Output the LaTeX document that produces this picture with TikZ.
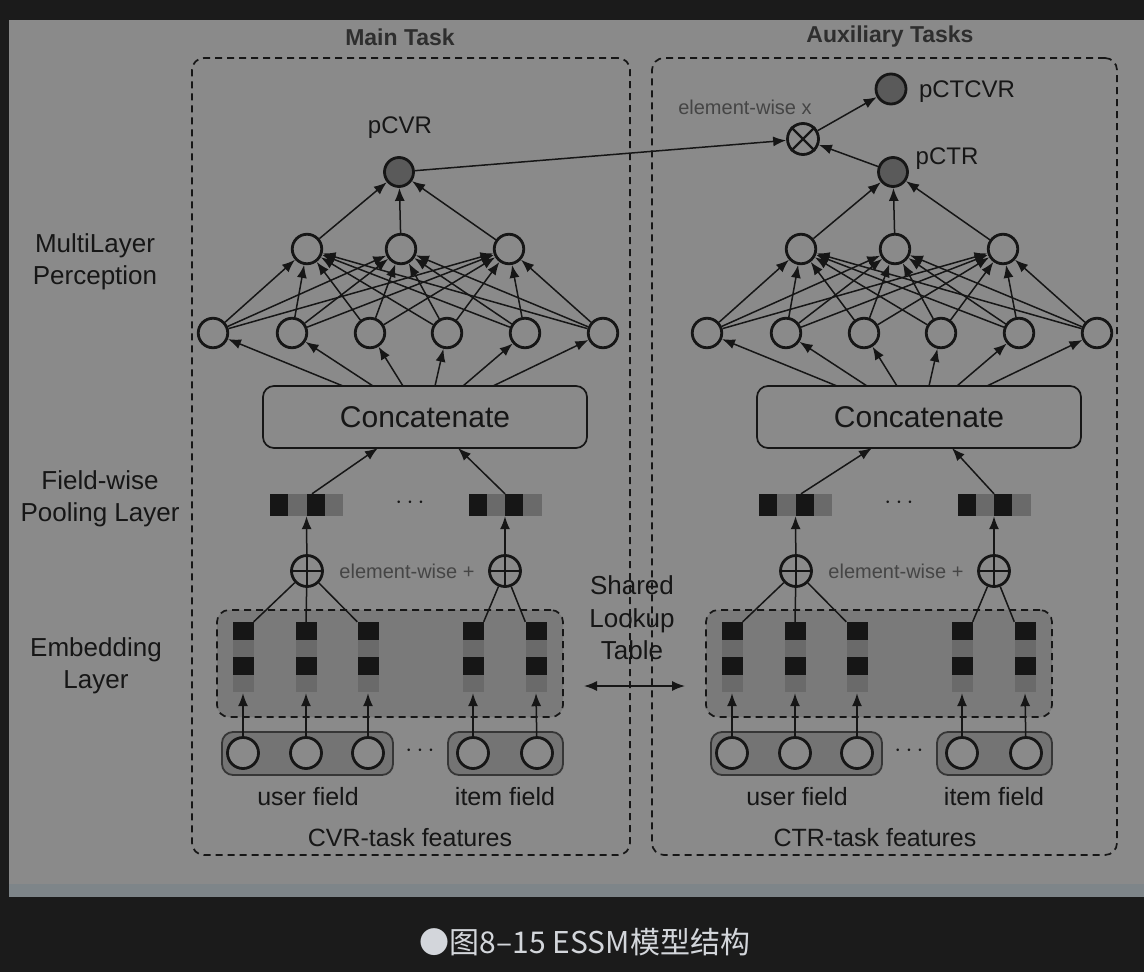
\documentclass[tikz,border=0pt]{standalone}
\usepackage{fontspec}
\setmainfont{Liberation Sans}
\newfontfamily\cjk{Noto Sans CJK SC}
\usetikzlibrary{arrows.meta,calc}

\definecolor{bgdark}{HTML}{1B1B1B}
\definecolor{panel}{HTML}{8A8A8A}
\definecolor{strip}{HTML}{7E8589}
\definecolor{ink}{HTML}{161616}
\definecolor{title}{HTML}{2E2E2E}
\definecolor{embfill}{HTML}{7A7A7A}
\definecolor{infill}{HTML}{747474}
\definecolor{inborder}{HTML}{363636}
\definecolor{cellgray}{HTML}{6A6A6A}
\definecolor{outfill}{HTML}{5A5A5A}
\definecolor{capcol}{HTML}{D3D6DB}
\definecolor{softink}{HTML}{454545}

\tikzset{
  neuron/.style={circle, draw=ink, line width=2.8pt, fill=panel, minimum size=29.5pt, inner sep=0pt},
  outn/.style={neuron, fill=outfill, minimum size=29pt},
  innode/.style={neuron, minimum size=31pt},
  opnode/.style={neuron, minimum size=31pt},
  arr/.style={draw=ink, line width=1.5pt, -{Latex[length=13pt,width=10pt]}},
  darr/.style={draw=ink, line width=1.5pt, {Latex[length=13pt,width=10pt]}-{Latex[length=13pt,width=10pt]}},
  ln/.style={draw=ink, line width=1.5pt},
  dbox/.style={draw=ink, dash pattern=on 7pt off 5pt, line width=1.7pt, rounded corners=12pt, inner sep=0pt},
  embbox/.style={dbox, fill=embfill},
  fieldbox/.style={draw=inborder, line width=1.8pt, fill=infill, rounded corners=11pt, inner sep=0pt},
  catbox/.style={draw=ink, line width=1.7pt, rounded corners=11pt, minimum width=324pt, minimum height=62pt, inner sep=0pt, font=\fontsize{30}{34}\selectfont, text=ink},
  blank/.style={draw=none, inner sep=0pt},
  lab/.style={font=\fontsize{26}{32.5}\selectfont, text=ink, align=center},
  small/.style={font=\fontsize{25}{30}\selectfont, text=ink},
  wise/.style={font=\fontsize{20}{24}\selectfont, text=softink},
  ttl/.style={font=\bfseries\fontsize{23}{28}\selectfont, text=title},
  plab/.style={font=\fontsize{24}{28}\selectfont, text=ink},
}

\newcommand\tower[3]{%
  % upper part
  \begin{scope}[xshift=#2]
    \node[outn] (#1out) at (399,172) {};
    \foreach \x [count=\k] in {307,401,509} \node[neuron] (#1h\k) at (\x,249) {};
    \foreach \x [count=\k] in {213,292,370,447,525,603} \node[neuron] (#1g\k) at (\x,333) {};
    \node[catbox] (#1cat) at (425,417) {Concatenate};
    \foreach \x [count=\k] in {343,373,403,435,463,493} {
      \coordinate (#1ct\k) at (\x,386);
      \draw[arr] (#1ct\k) -- (#1g\k);
    }
    \foreach \a in {1,...,6} \foreach \b in {1,2,3} \draw[arr] (#1g\a) -- (#1h\b);
    \foreach \b in {1,2,3} \draw[arr] (#1h\b) -- (#1out);
    \coordinate (#1cb1) at (378,448);
    \coordinate (#1cb2) at (458,448);
  \end{scope}
  % lower part
  \begin{scope}[xshift=#3]
    \node[blank, minimum width=73pt, minimum height=22pt] (#1v1) at (306.5,505) {};
    \node[blank, minimum width=73pt, minimum height=22pt] (#1v2) at (505,505) {};
    \foreach \i/\c in {0/ink,1/cellgray,2/ink,3/cellgray} {
      \fill[\c] (270+\i*18.25,494) rectangle ++(18.25,22);
      \fill[\c] (468.5+\i*18.25,494) rectangle ++(18.25,22);
    }
    \node[small] (#1vd) at (410,503) {\textbf{$\cdots$}};
    \node[embbox, minimum width=346pt, minimum height=107pt] (#1emb) at (390,663.5) {};
    \foreach \x [count=\k] in {243,306,368,473,536} {
      \node[blank, minimum width=21pt, minimum height=70pt] (#1c\k) at (\x,657) {};
      \foreach \j/\c in {0/ink,1/cellgray,2/ink,3/cellgray}
        \fill[\c] (\x-10.5,622+\j*17.5) rectangle ++(21,17.5);
    }
    \node[opnode] (#1o1) at (307,571) {};
    \node[opnode] (#1o2) at (505,571) {};
    \foreach \o in {1,2}
      \draw[draw=ink, line width=2.4pt] (#1o\o.north) -- (#1o\o.south) (#1o\o.west) -- (#1o\o.east);
    \node[wise] (#1ew) at (407,571) {element-wise +};
    \draw[ln] (#1c1.north east) -- (#1o1);
    \draw[ln] (#1c2.north) -- (#1o1);
    \draw[ln] (#1c3.north west) -- (#1o1);
    \draw[ln] (#1c4.north east) -- (#1o2);
    \draw[ln] (#1c5.north west) -- (#1o2);
    \draw[arr] (#1o1) -- (#1v1.south);
    \draw[arr] (#1o2) -- (#1v2.south);
    \draw[arr] ([xshift=5.5pt]#1v1.north) -- (#1cb1);
    \draw[arr] (#1v2.north) -- (#1cb2);
    \node[fieldbox, minimum width=171pt, minimum height=43pt] (#1ub) at (307.5,753.5) {};
    \node[fieldbox, minimum width=115pt, minimum height=43pt] (#1ib) at (505.5,753.5) {};
    \foreach \x [count=\k] in {243,306,368,473,537} {
      \node[innode] (#1i\k) at (\x,753) {};
      \draw[arr, shorten >=1pt] (#1i\k) -- (#1c\k.south);
    }
    \node[small] (#1id) at (420,751) {$\cdots$};
    \node[small] (#1uf) at (308,797) {user field};
    \node[small] (#1if) at (505,797) {item field};
  \end{scope}
}

\begin{document}
\begin{tikzpicture}[x=1pt,y=-1pt]
  \useasboundingbox (0,0) rectangle (1144,972);
  \fill[bgdark] (0,0) rectangle (1144,972);
  \fill[panel] (9,20) rectangle (1144,884);
  \fill[strip] (9,884) rectangle (1144,897);

  % task boxes
  \node[dbox, minimum width=438pt, minimum height=797pt] (Lbox) at (411,456.5) {};
  \node[dbox, minimum width=465pt, minimum height=797pt] (Rbox) at (884.5,456.5) {};
  \node[ttl] (Lttl) at (400,37) {Main Task};
  \node[ttl] (Rttl) at (890,37) {Auxiliary Tasks};

  \tower{L}{0}{0}
  \tower{R}{494}{489}

  \node[small] (Lfeat) at (410,838) {CVR-task features};
  \node[small] (Rfeat) at (875,838) {CTR-task features};

  % left labels
  \node[lab] (mlp) at (95,262) {MultiLayer\\Perception};
  \node[lab] (fwp) at (100,499) {Field-wise\\Pooling Layer};
  \node[lab] (emb) at (96,666) {Embedding\\Layer};

  % outputs
  \node[plab] (pcvr) at (400,128) {pCVR};
  \node[opnode] (X) at (803,139) {};
  \draw[draw=ink, line width=2.4pt] (X.north west) -- (X.south east) (X.north east) -- (X.south west);
  \node[outn, minimum size=30pt] (P) at (891,89) {};
  \node[plab] (pctcvr) at (967,92) {pCTCVR};
  \node[plab] (pctr) at (947,159) {pCTR};
  \node[wise] (ewx) at (745,107) {element-wise x};
  \draw[arr] (Lout) -- (X);
  \draw[arr] (Rout) -- (X);
  \draw[arr] (X) -- (P);

  % shared lookup
  \node[lab] (slt) at (632,618) {Shared\\Lookup\\Table};
  \coordinate (sl1) at (584,686);
  \coordinate (sl2) at (685,686);
  \draw[darr] (sl1) -- (sl2);

  % caption
  \node[text=capcol, font=\cjk\fontsize{30}{34}\selectfont] (cap) at (585,942) {●图8–15 ESSM模型结构};
\end{tikzpicture}
\end{document}
